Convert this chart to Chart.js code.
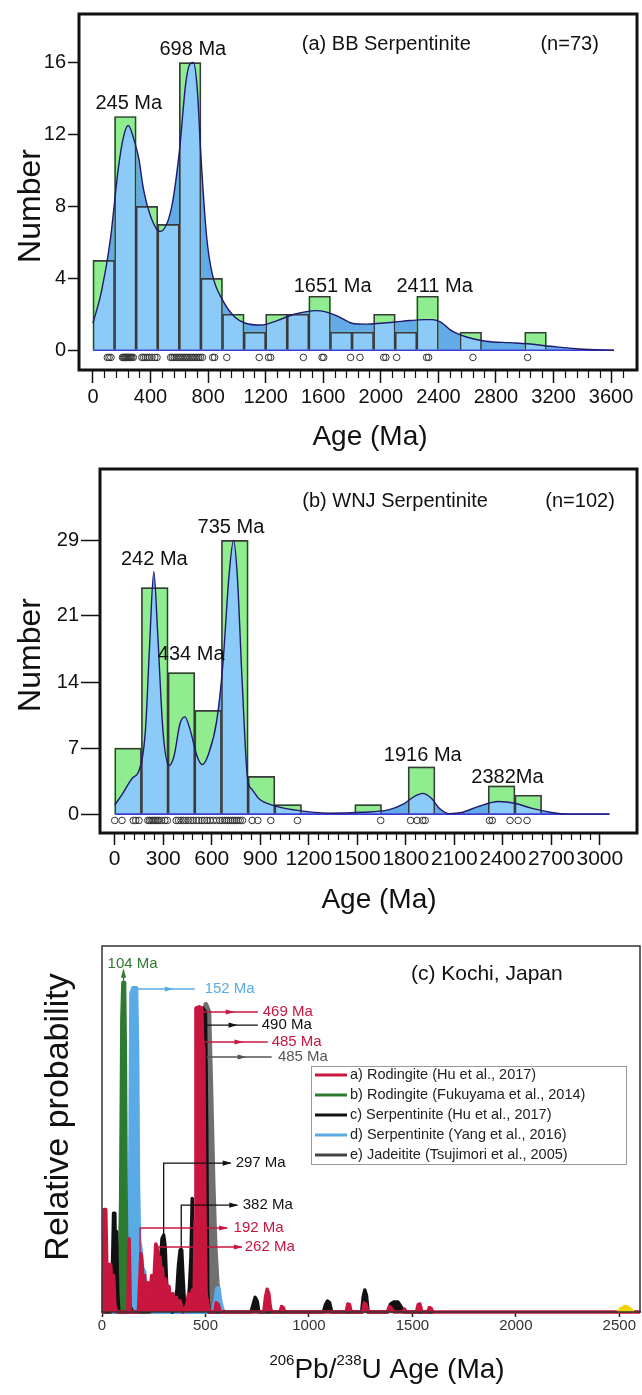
<!DOCTYPE html>
<html>
<head>
<meta charset="utf-8">
<script src="https://cdn.jsdelivr.net/npm/chart.js@4.4.1/dist/chart.umd.min.js"></script>
<style>
  body { margin: 0; background: #fff; }
  canvas { position: absolute; left: 0; }
</style>
</head>
<body>
<canvas id="chartA" width="642" height="455" style="top:0"></canvas>
<canvas id="chartB" width="642" height="460" style="top:455px"></canvas>
<canvas id="chartC" width="642" height="480" style="top:915px"></canvas>
<script>
// (a) BB Serpentinite - histogram bins (150 Ma wide) and counts
const binA = [0,150,300,450,600,750,900,1050,1200,1350,1500,1650,1800,1950,2100,2250,2400,2550,2700,2850,3000,3150];
const countA = [5,13,8,7,16,4,2,1,2,2,3,1,1,2,1,3,0,1,0,0,1,0];
const binWidthA = 150;
// density curve
const kdeAgeA = [0,60,120,176,210,245,289,320,350,403,465,545,601,644,672,698,725,750,790,830,900,985,1060,1170,1280,1400,1550,1610,1700,1800,1900,2000,2100,2200,2300,2360,2420,2480,2590,2730,2900,3020,3180,3380,3620];
const kdeValA = [1.5,3.3,6.1,10.1,11.8,12.5,11.6,10.6,9.0,7.4,6.6,7.9,11.1,14.8,15.9,16.0,14.5,10.8,6.3,4.2,2.8,1.85,1.5,1.4,1.65,2.0,2.2,2.15,1.9,1.5,1.45,1.5,1.57,1.65,1.7,1.7,1.55,1.15,0.75,0.5,0.42,0.36,0.22,0.07,0.0];
// single grain ages (open circles)
const ageA = [100,112,125,205,212,220,226,232,238,244,250,256,262,270,280,340,352,365,378,392,410,430,445,540,552,565,578,590,602,614,626,638,650,662,674,686,698,710,722,734,746,760,832,845,930,1155,1220,1235,1462,1592,1603,1790,1855,2020,2035,2110,2318,2332,2640,3020];
const tickXA = [0,400,800,1200,1600,2000,2400,2800,3200,3600];
const tickYA = [0,4,8,12,16];

// (b) WNJ Serpentinite
const binB = [0,165,330,495,660,825,990,1155,1320,1485,1650,1815,1980,2145,2310,2475];
const countB = [7,24,15,11,29,4,1,0,0,1,0,5,0,0,3,2];
const binWidthB = 165;
const kdeAgeB = [0,50,114,145,190,215,242,265,298,336,366,404,434,467,510,541,581,631,669,707,735,758,788,822,850,894,974,1120,1326,1530,1692,1793,1856,1906,1957,2007,2071,2146,2247,2374,2475,2576,2702,2803,3060];
const kdeValB = [0.95,2.2,3.9,4.4,8.9,17.6,25.7,19.4,8.9,5.15,6.1,9.6,10.3,8.9,6.1,5.25,6.4,9.9,15.9,25.3,29.0,25.3,14.1,3.7,2.6,1.6,0.95,0.42,0.1,0.2,0.45,1.15,1.9,2.2,1.7,0.63,0.05,0.17,0.8,1.33,1.15,0.63,0.17,0.0,0.0];
const ageB = [0,45,115,130,150,205,215,225,235,245,255,265,275,290,310,325,380,395,410,425,440,455,470,485,505,520,540,555,570,590,610,630,650,665,680,692,704,716,728,740,752,764,776,790,850,885,965,1130,1645,1830,1870,1905,1920,2318,2335,2445,2495,2550];
const tickXB = [0,300,600,900,1200,1500,1800,2100,2400,2700,3000];
const tickYB = [0,7,14,21,29];

// (c) Kochi, Japan - relative probability curves [age, value]
const rodHu = [[0,0],[7,0],[10,0.28],[18,0.28],[24,0.1],[30,0.13],[42,0.13],[50,0.05],[56,0.1],[62,0.02],[70,0],[125,0],[131,0.2],[137,0],[176,0],[182,0.08],[188,0.16],[194,0.13],[200,0.05],[206,0.1],[212,0.03],[222,0.08],[230,0.03],[240,0.1],[248,0.03],[254,0.12],[260,0.186],[268,0.17],[274,0.09],[280,0.15],[286,0.1],[292,0.12],[300,0.05],[308,0.09],[316,0.04],[324,0.07],[332,0.02],[342,0.05],[350,0.02],[360,0.04],[368,0.01],[378,0.03],[392,0],[410,0.02],[418,0.05],[426,0.02],[436,0.06],[445,0.03],[450,0.25],[454,0.83],[470,0.834],[482,0.83],[486,0.74],[492,0.72],[497,0.3],[503,0.05],[512,0.02],[520,0],[545,0],[552,0.025],[562,0.02],[572,0],[782,0],[790,0.04],[798,0.062],[806,0.05],[814,0.01],[822,0],[860,0],[868,0.015],[876,0.012],[884,0],[1180,0],[1188,0.022],[1196,0.02],[1204,0],[1260,0],[1268,0.025],[1276,0.02],[1284,0],[1380,0],[1390,0.015],[1398,0.01],[1410,0],[1455,0],[1462,0.008],[1470,0],[1520,0],[1528,0.02],[1536,0.022],[1546,0],[1575,0],[1582,0.012],[1590,0.01],[1600,0],[2600,0]];
const rodFuku = [[62,0],[80,0.02],[90,0.3],[96,0.8],[101,0.9],[109,0.9],[113,0.7],[117,0.3],[122,0.05],[132,0]];
const serpHu = [[0,0],[40,0],[50,0.1],[56,0.27],[62,0.27],[66,0.1],[70,0.22],[76,0.05],[82,0],[135,0],[140,0.01],[148,0],[230,0],[240,0.01],[250,0.03],[262,0.02],[270,0.04],[280,0.12],[290,0.2],[298,0.21],[305,0.18],[312,0.08],[318,0.04],[326,0.02],[340,0],[350,0.02],[362,0.06],[370,0.13],[378,0.17],[385,0.17],[392,0.09],[398,0.03],[406,0.01],[414,0.02],[422,0.06],[430,0.15],[436,0.31],[442,0.1],[450,0.05],[458,0.2],[466,0.5],[476,0.8],[488,0.83],[500,0.82],[506,0.5],[511,0.05],[518,0],[720,0],[730,0.02],[740,0.04],[750,0.03],[758,0],[1070,0],[1080,0.02],[1090,0.03],[1100,0.025],[1110,0],[1255,0],[1262,0.04],[1270,0.06],[1278,0.045],[1286,0],[1380,0],[1395,0.022],[1410,0.027],[1430,0.027],[1445,0.015],[1460,0],[1600,0]];
const serpYang = [[40,0],[120,0],[130,0.05],[137,0.5],[141,0.87],[150,0.885],[166,0.885],[171,0.7],[175,0.35],[180,0.2],[188,0.17],[196,0.12],[205,0.11],[214,0.06],[226,0.02],[240,0],[535,0],[548,0.03],[556,0.065],[564,0.065],[572,0.03],[585,0]];
const jadeTs = [[440,0],[458,0.05],[474,0.45],[488,0.8],[502,0.84],[516,0.82],[526,0.6],[536,0.36],[546,0.18],[556,0.08],[568,0.02],[585,0]];
const otherC = [[2490,0],[2510,0.01],[2530,0.016],[2550,0.01],[2570,0]];
const tickXC = [0,500,1000,1500,2000,2500];

const RED = '#c8163f', GRN = '#2e7a31', BLK = '#111111', BLU = '#5aaae6', GRY = '#707070';

// peak labels with their pointer lines (data coordinates)
const peaksC = [
  {text: '104 Ma', color: GRN, tx: 27, ty: 0.951, path: [[104,0.88],[104,0.935]], head: 1},
  {text: '152 Ma', color: BLU, tx: 496, ty: 0.8825, path: [[145,0.8825],[448,0.8825]], head: 0.65},
  {text: '469 Ma', color: RED, tx: 777, ty: 0.8197, path: [[462,0.8197],[753,0.8197]], head: 0.6},
  {text: '490 Ma', color: BLK, tx: 772, ty: 0.784, path: [[496,0.784],[753,0.784]], head: 0.6},
  {text: '485 Ma', color: RED, tx: 820, ty: 0.7377, path: [[496,0.7377],[801,0.7377]], head: 0.6},
  {text: '485 Ma', color: '#555', tx: 850, ty: 0.6967, path: [[506,0.6967],[820,0.6967]], head: 0.6},
  {text: '297 Ma', color: BLK, tx: 646, ty: 0.407, path: [[298,0.205],[298,0.407],[622,0.407]], head: 1},
  {text: '382 Ma', color: BLK, tx: 680, ty: 0.292, path: [[383,0.142],[383,0.292],[654,0.292]], head: 1},
  {text: '192 Ma', color: RED, tx: 636, ty: 0.2295, path: [[184,0.128],[184,0.2295],[605,0.2295]], head: 1},
  {text: '262 Ma', color: RED, tx: 690, ty: 0.1776, path: [[265,0.1776],[676,0.1776]], head: 1},
];

const FONT = "'Liberation Sans', Arial, sans-serif";
Chart.defaults.font.family = FONT;
Chart.defaults.animation = false;

const GREEN = '#8fec8f', LIGHT = '#8ccbf7', MID = '#62abe6';

const pts = (xs, ys) => xs.map((x, i) => ({x: x, y: ys[i]}));
const pairs = arr => arr.map(p => ({x: p[0], y: p[1]}));
const tickList = arr => s => { s.ticks = arr.map(v => ({value: v})); };

// thick box round the plot area
const frameBox = {
  id: 'frameBox',
  afterDraw(chart, args, o) {
    const {ctx, chartArea: a} = chart;
    ctx.save();
    ctx.lineWidth = o.width || 1;
    ctx.strokeStyle = o.color || '#111';
    ctx.strokeRect(a.left, a.top, a.right - a.left, a.bottom - a.top);
    ctx.restore();
  }
};

// short unlabelled ticks between the major ones
const minorTicks = {
  id: 'minorTicks',
  afterDraw(chart, args, o) {
    if (!o.step) return;
    const s = chart.scales.x, ctx = chart.ctx, y0 = chart.chartArea.bottom;
    ctx.save();
    ctx.strokeStyle = '#111';
    ctx.lineWidth = 1.2;
    for (let v = o.from; v <= o.to + 1e-6; v += o.step) {
      if (Math.abs(v % o.major) < 1e-6) continue;
      const px = Math.round(s.getPixelForValue(v)) + 0.5;
      ctx.beginPath();
      ctx.moveTo(px, y0 + 1);
      ctx.lineTo(px, y0 + o.len);
      ctx.stroke();
    }
    ctx.restore();
  }
};

// density fill is light blue inside the bars: clip after the green bars are drawn
const barClip = {
  id: 'barClip',
  afterDatasetDraw(chart, args) {
    const ds = chart.data.datasets[args.index];
    const ctx = chart.ctx;
    if (ds.isHist) {
      ctx.save();
      ctx.beginPath();
      args.meta.data.forEach(b => {
        const p = b.getProps(['x', 'y', 'base', 'width'], true);
        ctx.rect(p.x - p.width / 2, Math.min(p.y, p.base), p.width, Math.abs(p.base - p.y));
      });
      ctx.clip();
    } else if (ds.clipBars) {
      ctx.restore();
    }
  }
};

function notes(items) {
  return {
    id: 'notes',
    afterDraw(chart) {
      const ctx = chart.ctx, sx = chart.scales.x, sy = chart.scales.y;
      items.forEach(it => {
        const px = it.px !== undefined ? it.px : sx.getPixelForValue(it.x);
        const py = it.py !== undefined ? it.py : sy.getPixelForValue(it.y);
        ctx.save();
        ctx.translate(px, py);
        if (it.rot) ctx.rotate(it.rot * Math.PI / 180);
        ctx.fillStyle = it.color || '#111';
        ctx.textBaseline = 'middle';
        if (it.runs) {
          let w = 0;
          it.runs.forEach(r => { ctx.font = r[1] + 'px ' + FONT; w += ctx.measureText(r[0]).width; });
          let x = -w / 2;
          ctx.textAlign = 'left';
          it.runs.forEach(r => {
            ctx.font = r[1] + 'px ' + FONT;
            ctx.fillText(r[0], x, r[2]);
            x += ctx.measureText(r[0]).width;
          });
        } else {
          ctx.font = it.size + 'px ' + FONT;
          ctx.textAlign = it.align || 'center';
          ctx.fillText(it.text, 0, 0);
        }
        ctx.restore();
      });
    }
  };
}

function histChart(id, o) {
  const hist = o.bins.map((b, i) => ({x: b + o.width / 2, y: o.counts[i]}));
  const kde = pts(o.kdeAge, o.kdeVal);
  const smooth = {pointRadius: 0, cubicInterpolationMode: 'monotone'};
  return new Chart(document.getElementById(id), {
    type: 'bar',
    data: {
      datasets: [
        {type: 'scatter', data: o.ages.map(a => ({x: a, y: o.rugY})), pointRadius: 3.3, borderWidth: 1,
         borderColor: '#333', backgroundColor: 'rgba(255,255,255,0)', order: 1},
        Object.assign({type: 'line', data: kde, borderColor: '#1f1a6b', borderWidth: 1.4, fill: false, order: 2}, smooth),
        {type: 'line', data: [{x: o.kdeAge[0], y: 0}, {x: o.kdeAge[o.kdeAge.length - 1], y: 0}],
         borderColor: '#3b3bd8', borderWidth: 1.6, pointRadius: 0, order: 2},
        {type: 'bar', data: hist, backgroundColor: 'rgba(0,0,0,0)', borderColor: '#3a3a3a', borderWidth: 1, order: 3},
        Object.assign({type: 'line', data: kde, fill: 'origin', backgroundColor: LIGHT, borderColor: 'rgba(0,0,0,0)',
         borderWidth: 0, clipBars: true, order: 4}, smooth),
        {type: 'bar', data: hist, backgroundColor: GREEN, borderWidth: 0, isHist: true, order: 5},
        Object.assign({type: 'line', data: kde, fill: 'origin', backgroundColor: MID, borderColor: 'rgba(0,0,0,0)',
         borderWidth: 0, order: 6}, smooth),
      ]
    },
    options: {
      responsive: false,
      layout: {padding: o.pad},
      datasets: {bar: {barPercentage: 1, categoryPercentage: 1, grouped: false}},
      plugins: {
        legend: {display: false}, tooltip: {enabled: false},
        frameBox: {width: 3, color: '#111'},
        minorTicks: o.minor
      },
      scales: {
        x: {
          type: 'linear', min: o.xMin, max: o.xMax, offset: false,
          afterBuildTicks: tickList(o.tickX),
          afterFit: s => { s.height = o.xH; },
          grid: {drawOnChartArea: false, offset: false, tickLength: o.majLen, tickColor: '#111', tickWidth: 1.5},
          border: {display: false},
          ticks: {font: {size: o.xFont}, color: '#111', padding: 2, maxRotation: 0, autoSkip: false, callback: v => String(v)}
        },
        y: {
          min: o.yMin, max: o.yMax,
          afterBuildTicks: tickList(o.tickY),
          afterFit: s => { s.width = o.yW; },
          grid: {drawOnChartArea: false, tickLength: o.yLen, tickColor: '#111', tickWidth: 1.5},
          border: {display: false},
          ticks: {font: {size: 20}, color: '#111', padding: 2, callback: v => String(v)}
        }
      }
    },
    plugins: [barClip, frameBox, minorTicks, notes(o.notes)]
  });
}

histChart('chartA', {
  bins: binA, counts: countA, width: binWidthA, kdeAge: kdeAgeA, kdeVal: kdeValA, ages: ageA, rugY: -0.4,
  tickX: tickXA, tickY: tickYA, xMin: -97, xMax: 3780, yMin: -1.1, yMax: 18.7,
  pad: {top: 12, right: 2, left: 0, bottom: 0}, xH: 85, yW: 79, majLen: 13, yLen: 11, xFont: 20,
  minor: {step: 80, from: 0, to: 3680, major: 400, len: 8},
  notes: [
    {text: '(a) BB Serpentinite', x: 1451, y: 17.0, align: 'left', size: 20},
    {text: '(n=73)', x: 3109, y: 17.0, align: 'left', size: 20},
    {text: '245 Ma', x: 249, y: 13.7, size: 20},
    {text: '698 Ma', x: 694, y: 16.7, size: 20},
    {text: '1651 Ma', x: 1665, y: 3.55, size: 20},
    {text: '2411 Ma', x: 2374, y: 3.55, size: 20},
    {text: 'Number', px: 31, py: 206, rot: -90, size: 32},
    {text: 'Age (Ma)', px: 370, py: 437, size: 28}
  ]
});

histChart('chartB', {
  bins: binB, counts: countB, width: binWidthB, kdeAge: kdeAgeB, kdeVal: kdeValB, ages: ageB, rugY: -0.67,
  tickX: tickXB, tickY: tickYB, xMin: -91, xMax: 3230, yMin: -2.0, yMax: 36.57,
  pad: {top: 11, right: 3, left: 0, bottom: 0}, xH: 82, yW: 100, majLen: 12, yLen: 19, xFont: 21,
  minor: {step: 60, from: 0, to: 3000, major: 300, len: 7},
  notes: [
    {text: '(b) WNJ Serpentinite', x: 1160, y: 33.1, align: 'left', size: 20},
    {text: '(n=102)', x: 2663, y: 33.1, align: 'left', size: 20},
    {text: '242 Ma', x: 245, y: 27.0, size: 20},
    {text: '735 Ma', x: 719, y: 30.4, size: 20},
    {text: '434 Ma', x: 473, y: 16.9, size: 20},
    {text: '1916 Ma', x: 1905, y: 6.2, size: 20},
    {text: '2382Ma', x: 2429, y: 3.9, size: 20},
    {text: 'Number', px: 31, py: 200, rot: -90, size: 32},
    {text: 'Age (Ma)', px: 379, py: 445, size: 28}
  ]
});

// pointer lines with small arrow heads
const arrows = {
  id: 'arrows',
  afterDatasetsDraw(chart) {
    const ctx = chart.ctx, sx = chart.scales.x, sy = chart.scales.y;
    peaksC.forEach(a => {
      const p = a.path.map(q => [sx.getPixelForValue(q[0]), sy.getPixelForValue(q[1])]);
      ctx.save();
      ctx.strokeStyle = a.color;
      ctx.fillStyle = a.color;
      ctx.lineWidth = 1.3;
      ctx.beginPath();
      p.forEach((q, i) => i ? ctx.lineTo(q[0], q[1]) : ctx.moveTo(q[0], q[1]));
      ctx.stroke();
      const [x1, y1] = p[p.length - 2], [x2, y2] = p[p.length - 1];
      ctx.translate(x1 + (x2 - x1) * a.head, y1 + (y2 - y1) * a.head);
      ctx.rotate(Math.atan2(y2 - y1, x2 - x1));
      ctx.beginPath();
      ctx.moveTo(1, 0); ctx.lineTo(-8, -2.6); ctx.lineTo(-8, 2.6); ctx.closePath();
      ctx.fill();
      ctx.restore();
    });
  }
};

// legend box drawn inside the plot
const boxLegend = {
  id: 'boxLegend',
  afterDraw(chart) {
    const ctx = chart.ctx;
    const items = chart.data.datasets.filter(d => d.legendText).sort((a, b) => a.rank - b.rank);
    const L = 311, T = 151, W = 315, H = 98;
    ctx.save();
    ctx.fillStyle = '#fff';
    ctx.fillRect(L, T, W, H);
    ctx.strokeStyle = '#9a9a9a';
    ctx.lineWidth = 1;
    ctx.strokeRect(L + 0.5, T + 0.5, W, H);
    ctx.font = '14.5px ' + FONT;
    ctx.textBaseline = 'middle';
    items.forEach((d, i) => {
      const y = T + 9 + i * 20;
      ctx.strokeStyle = d.swatch || d.borderColor;
      ctx.lineWidth = 3;
      ctx.beginPath(); ctx.moveTo(L + 4, y); ctx.lineTo(L + 36, y); ctx.stroke();
      ctx.fillStyle = '#222';
      ctx.fillText(d.legendText, L + 39, y);
    });
    ctx.restore();
  }
};

const notesC = peaksC.map(p => ({text: p.text, x: p.tx, y: p.ty, align: 'left', size: 15, color: p.color})).concat([
  {text: '(c) Kochi, Japan', x: 1493, y: 0.923, align: 'left', size: 21},
  {text: 'Relative probability', px: 59, py: 202, rot: -90, size: 34},
  {px: 387, py: 455, runs: [['206', 15, -9], ['Pb/', 28, 0], ['238', 15, -9], ['U Age (Ma)', 28, 0]]}
]);

const area = c => ({borderColor: c, backgroundColor: c, fill: 'origin'});

new Chart(document.getElementById('chartC'), {
  type: 'line',
  data: {
    datasets: [
      Object.assign({label: 'e', legendText: 'e) Jadeitite (Tsujimori et al., 2005)', rank: 5, data: pairs(jadeTs),
       swatch: '#444', borderWidth: 5, order: 6}, area(GRY)),
      Object.assign({label: 'd', legendText: 'd) Serpentinite (Yang et al., 2016)', rank: 4, data: pairs(serpYang),
       borderWidth: 4, order: 5}, area(BLU)),
      Object.assign({label: 'b', legendText: 'b) Rodingite (Fukuyama et al., 2014)', rank: 2, data: pairs(rodFuku),
       borderWidth: 3.5, order: 4}, area(GRN)),
      Object.assign({label: 'c', legendText: 'c) Serpentinite (Hu et al., 2017)', rank: 3, data: pairs(serpHu),
       borderWidth: 3.5, order: 3}, area(BLK)),
      Object.assign({label: 'a', legendText: 'a) Rodingite (Hu et al., 2017)', rank: 1, data: pairs(rodHu),
       borderWidth: 3.5, order: 2}, area(RED)),
      {label: 'other', data: pairs(otherC), borderColor: '#f2d200', backgroundColor: '#f2d200', fill: 'origin', borderWidth: 3, order: 1}
    ]
  },
  options: {
    responsive: false,
    layout: {padding: {top: 31, right: 2, left: 102, bottom: 0}},
    datasets: {line: {pointRadius: 0, tension: 0, borderJoinStyle: 'round', clip: 4}},
    plugins: {
      legend: {display: false}, tooltip: {enabled: false},
      filler: {drawTime: 'beforeDatasetDraw'},
      frameBox: {width: 1.5, color: '#333'}
    },
    scales: {
      x: {
        type: 'linear', min: 0, max: 2600,
        afterBuildTicks: tickList(tickXC),
        afterFit: s => { s.height = 83; },
        grid: {drawOnChartArea: false, tickLength: 5, tickColor: '#222', tickWidth: 1.5},
        border: {display: true, color: '#222', width: 1.5},
        ticks: {font: {size: 15}, color: '#333', padding: 0, maxRotation: 0, autoSkip: false, callback: v => String(v)}
      },
      y: {min: 0, max: 1, display: false}
    }
  },
  plugins: [frameBox, arrows, boxLegend, notes(notesC)]
});
</script>
</body>
</html>
